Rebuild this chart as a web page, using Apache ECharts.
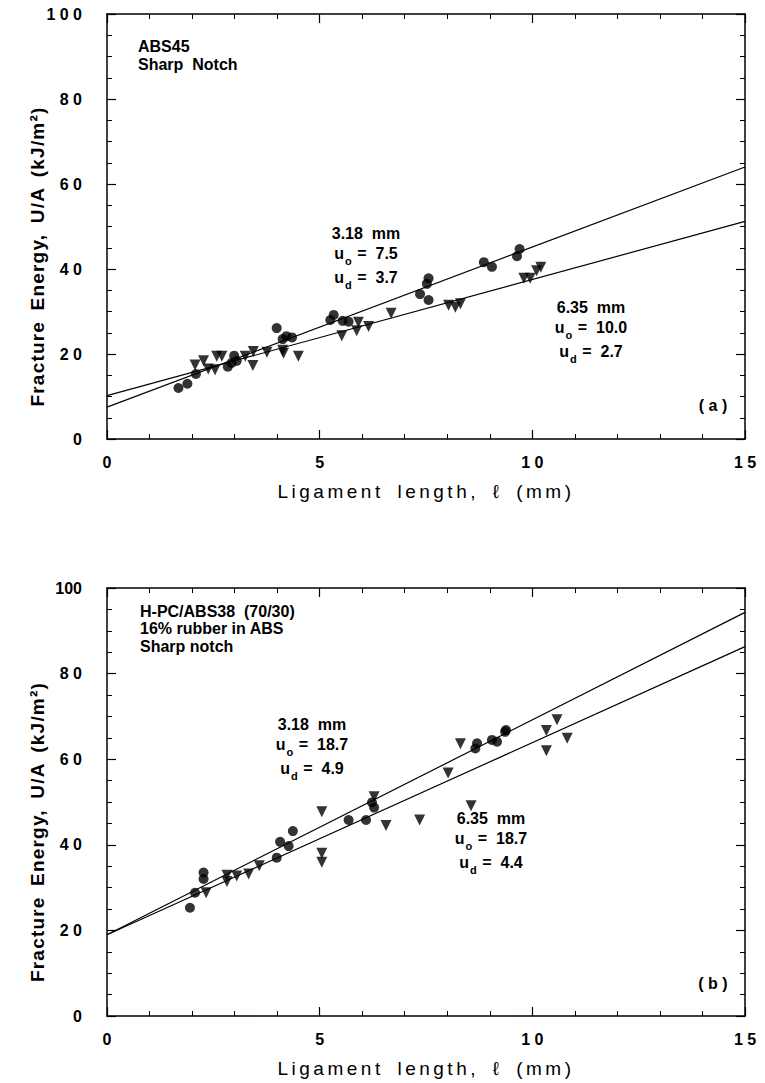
<!DOCTYPE html>
<html>
<head>
<meta charset="utf-8">
<script src="https://cdn.jsdelivr.net/npm/echarts@6/dist/echarts.min.js"></script>
<style>
html,body{margin:0;padding:0;background:#fff;}
#chart{width:765px;height:1083px;}
#chart svg text{white-space:pre;}
</style>
</head>
<body>
<div id="chart"></div>
<script>
// ---------- DATA ----------
// Panel (a): ABS45, sharp notch. [ligament length l (mm), U/A (kJ/m^2)]
const a318Points = [
  [1.68,12.0],[1.89,13.0],[2.09,15.3],[2.84,17.0],[2.93,17.9],[2.99,19.6],[3.05,18.4],
  [3.99,26.1],[4.13,23.5],[4.22,24.2],[4.35,23.9],[5.25,28.0],[5.33,29.2],[5.54,27.8],
  [5.68,27.6],[7.36,34.1],[7.52,36.5],[7.56,37.8],[7.56,32.7],[8.86,41.6],[9.05,40.5],
  [9.64,43.0],[9.70,44.7]
];
const a635Points = [
  [2.07,17.4],[2.27,18.4],[2.38,16.5],[2.54,16.3],[2.58,19.5],[2.70,19.5],[3.25,19.5],
  [3.43,17.3],[3.44,20.6],[3.76,20.4],[4.13,20.9],[4.15,20.2],[4.50,19.5],[5.52,24.3],
  [5.87,25.5],[5.91,27.5],[6.15,26.5],[6.68,29.6],[8.03,31.5],[8.19,31.0],[8.31,31.8],
  [9.80,37.8],[9.95,37.8],[10.10,39.6],[10.20,40.4]
];
const a318Fit = [[0,7.5],[15,64.0]];
const a635Fit = [[0,10.2],[15,51.2]];

// Panel (b): H-PC/ABS38 (70/30)
const b318Points = [
  [1.95,25.3],[2.07,28.8],[2.27,33.5],[2.27,32.0],[3.99,37.0],[4.07,40.7],[4.27,39.7],
  [4.37,43.2],[5.68,45.8],[6.09,45.8],[6.23,49.9],[6.28,48.7],[8.66,62.5],[8.70,63.7],
  [9.05,64.5],[9.17,64.1],[9.36,66.4],[9.38,66.8]
];
const b635Points = [
  [2.33,28.8],[2.82,32.9],[2.82,31.4],[3.05,32.7],[3.33,33.2],[3.58,35.1],[5.05,47.7],
  [5.05,38.0],[5.05,35.9],[6.28,51.2],[6.56,44.5],[7.35,45.8],[8.02,56.8],[8.31,63.6],
  [8.56,49.1],[10.33,66.7],[10.33,62.0],[10.58,69.2],[10.82,64.9]
];
const b318Fit = [[0,19.0],[15,94.3]];
const b635Fit = [[0,19.0],[15,86.3]];

// Tick labels
const xTickValues = [0,5,10,15];
const xTickLabels = ['0','5','1 0','1 5'];
const yTickValues = [0,20,40,60,80,100];
const yTickLabelsA = ['0','2 0','4 0','6 0','8 0','1 0 0'];
const yTickLabelsB = ['0','2 0','4 0','6 0','8 0','100'];

const xTitle = 'Ligament length, \u2113 (mm)';
const yTitle = 'Fracture Energy, U/A (kJ/m\u00B2)';

// ---------- CHART ----------
const FONT = 'Liberation Sans, Arial, sans-serif';
const chart = echarts.init(document.getElementById('chart'), null, {renderer:'svg'});

function fmt(values, labels){
  return function(v){ const i = values.indexOf(v); return i>=0 ? labels[i] : ''; };
}
const axisLineStyle = {color:'#000', width:1.5};
function xAxisDef(grid, pos){
  const main = pos === 'bottom';
  return {
    type:'value', gridIndex:grid, position:pos, min:0, max:15, interval:5,
    axisLine:{show:true, onZero:false, lineStyle:axisLineStyle},
    axisTick:{show:true, inside:true, length:9, lineStyle:{color:'#000', width:1.2}},
    minorTick:{show:true, splitNumber:5, length:5, lineStyle:{color:'#000', width:1}},
    splitLine:{show:false}, minorSplitLine:{show:false},
    axisLabel:{show:main, margin:15, color:'#000', fontFamily:FONT, fontWeight:'bold', fontSize:16,
      formatter: fmt(xTickValues, xTickLabels)},
    name: main ? xTitle : '',
    nameLocation:'middle', nameGap:43, nameMoveOverlap:false,
    nameTextStyle:{color:'#000', fontFamily:FONT, fontSize:19}
  };
}
function yAxisDef(grid, pos, labels){
  const main = pos === 'left';
  return {
    type:'value', gridIndex:grid, position:pos, min:0, max:100, interval:20,
    axisLine:{show:true, onZero:false, lineStyle:axisLineStyle},
    axisTick:{show:true, inside:true, length:9, lineStyle:{color:'#000', width:1.2}},
    minorTick:{show:true, splitNumber:4, length:5, lineStyle:{color:'#000', width:1}},
    splitLine:{show:false}, minorSplitLine:{show:false},
    axisLabel:{show:main, margin:25, color:'#000', fontFamily:FONT, fontWeight:'bold', fontSize:16,
      formatter: fmt(yTickValues, labels)},
    name: main ? yTitle : '',
    nameLocation:'middle', nameGap:60, nameMoveOverlap:false,
    nameTextStyle:{color:'#000', fontFamily:FONT, fontWeight:'bold', fontSize:19,
      padding:[0,60,0,0]}
  };
}
function scatter(xi, yi, data, sym){
  return {
    type:'scatter', xAxisIndex:xi, yAxisIndex:yi, data:data,
    symbol: sym === 'tri' ? 'triangle' : 'circle',
    symbolSize: sym === 'tri' ? 11 : 10,
    symbolRotate: sym === 'tri' ? 180 : 0,
    itemStyle:{color:'#000'}, z:3, silent:true
  };
}
function fitLine(xi, yi, data){
  return {
    type:'line', xAxisIndex:xi, yAxisIndex:yi, data:data, symbol:'none',
    lineStyle:{color:'#000', width:1.2}, z:2, silent:true
  };
}

const txt = {fontFamily:FONT, fontWeight:'bold', fontSize:16, fill:'#000'};
const richU = {
  m:{fontFamily:FONT, fontWeight:'bold', fontSize:16, color:'#000', lineHeight:27, verticalAlign:'top', padding:[2,0,0,0]},
  s:{fontFamily:FONT, fontWeight:'bold', fontSize:11, color:'#000', lineHeight:27, verticalAlign:'top', padding:[12,1,0,1]}
};
function label(x, y, text, align){
  return {type:'text', x:x, y:y, style:Object.assign({text:text, align:align||'center', verticalAlign:'middle'}, txt), z:10};
}
function ulabel(x, y, sub, value){
  return {type:'text', x:x, y:y, style:Object.assign({
    text:'{m|u}{s|'+sub+'}{m| =  '+value+'}', align:'center', verticalAlign:'middle', rich:richU}, txt), z:10};
}

const option = {
  animation:false,
  backgroundColor:'#fff',
  grid:[
    {left:107, top:14, width:638, height:425},
    {left:107, top:588, width:638, height:428}
  ],
  xAxis:[ xAxisDef(0,'bottom'), xAxisDef(0,'top'), xAxisDef(1,'bottom'), xAxisDef(1,'top') ],
  yAxis:[ yAxisDef(0,'left',yTickLabelsA), yAxisDef(0,'right',yTickLabelsA),
          yAxisDef(1,'left',yTickLabelsB), yAxisDef(1,'right',yTickLabelsB) ],
  series:[
    fitLine(0,0,a318Fit), fitLine(0,0,a635Fit),
    scatter(0,0,a318Points,'circ'), scatter(0,0,a635Points,'tri'),
    fitLine(2,2,b318Fit), fitLine(2,2,b635Fit),
    scatter(2,2,b318Points,'circ'), scatter(2,2,b635Points,'tri')
  ],
  graphic:[
    label(138, 46, 'ABS45', 'left'),
    label(138, 64, 'Sharp  Notch', 'left'),
    label(366, 233, '3.18  mm'),
    ulabel(366, 257, 'o', '7.5'),
    ulabel(366, 281, 'd', '3.7'),
    label(591, 307, '6.35  mm'),
    ulabel(591, 331, 'o', '10.0'),
    ulabel(591, 355, 'd', '2.7'),
    label(713, 405, '( a )'),
    label(140, 611, 'H-PC/ABS38  (70/30)', 'left'),
    label(140, 628, '16% rubber in ABS', 'left'),
    label(140, 646, 'Sharp notch', 'left'),
    label(312, 724, '3.18  mm'),
    ulabel(312, 748, 'o', '18.7'),
    ulabel(312, 772, 'd', '4.9'),
    label(491, 818, '6.35  mm'),
    ulabel(491, 842, 'o', '18.7'),
    ulabel(491, 866, 'd', '4.4'),
    label(713, 983, '( b )')
  ]
};
chart.setOption(option);

// Keep typed spacing and widen the tracking of the axis titles, as in the original
function applyTracking(){
  document.querySelectorAll('#chart svg text').forEach(function(t){
    t.setAttributeNS('http://www.w3.org/XML/1998/namespace', 'xml:space', 'preserve');
    const s = t.textContent;
    if (s === xTitle) { t.style.letterSpacing = '3.5px'; t.style.wordSpacing = '5px'; }
    else if (s === yTitle) { t.style.letterSpacing = '1.2px'; t.style.wordSpacing = '4px'; }
  });
}
applyTracking();
chart.on('finished', applyTracking);
</script>
</body>
</html>
